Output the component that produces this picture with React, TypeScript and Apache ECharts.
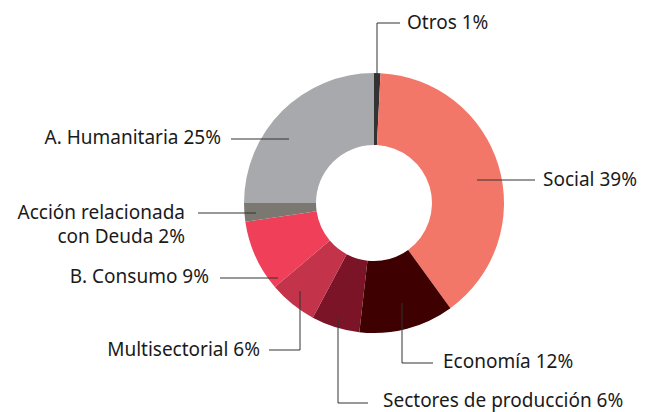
import React, { useEffect, useRef } from "react";
import * as echarts from "echarts";

const categories = [
  "Otros",
  "Social",
  "Economía",
  "Sectores de producción",
  "Multisectorial",
  "B. Consumo",
  "Acción relacionada con Deuda",
  "A. Humanitaria",
];
const values = [0.8, 39.2, 11.8, 6.0, 6.0, 8.9, 2.3, 25.0];
const shownPercents = [1, 39, 12, 6, 6, 9, 2, 25];
const colors = ["#333333", "#f37769", "#3f0001", "#7b1426", "#c3334a", "#ef3f59", "#7a7870", "#a8a9ac"];

export default function App() {
  const ref = useRef<HTMLDivElement>(null);
  useEffect(() => {
    document.body.style.margin = "0";
    const chart = echarts.init(ref.current!, null, { renderer: "svg" });
    const font = "Noto Sans";
    const fs = 19;
    const txt = (i: number) => `${categories[i]} ${shownPercents[i]}%`;
    const tStyle = (s: any) => ({ fill: "#1a1a1a", font: `${fs}px "${font}"`, lineHeight: 20, ...s });
    const lineStyle = { stroke: "#333333", lineWidth: 1, fill: null };
    const poly = (pts: number[][]) => ({ type: "polyline", shape: { points: pts }, style: lineStyle, z: 10 });
    const text = (x: number, y: number, s: string, align: string) => ({
      type: "text",
      x,
      y,
      style: tStyle({ text: s, align, verticalAlign: "middle" }),
      z: 10,
    });
    chart.setOption({
      animation: false,
      series: [
        {
          type: "pie",
          center: [374, 203],
          radius: [58, 130],
          startAngle: 90,
          clockwise: true,
          label: { show: false },
          labelLine: { show: false },
          emphasis: { disabled: true },
          itemStyle: { borderWidth: 0 },
          data: categories.map((c, i) => ({ name: c, value: values[i], itemStyle: { color: colors[i] } })),
        },
      ],
      graphic: [
        poly([[377, 82], [377, 23], [400, 23]]),
        text(407, 22, txt(0), "left"),
        poly([[477, 180], [535, 180]]),
        text(543, 179, txt(1), "left"),
        poly([[402, 303], [402, 363], [433, 363]]),
        text(443, 361, txt(2), "left"),
        poly([[338, 317], [338, 403], [368, 403]]),
        text(383, 400, txt(3), "left"),
        poly([[300, 291], [300, 350], [269, 350]]),
        text(260, 349, txt(4), "right"),
        poly([[278, 278], [220, 278]]),
        text(209, 276, txt(5), "right"),
        poly([[256, 213], [198, 213]]),
        text(185, 212, "Acción relacionada", "right"),
        text(185, 236, `con Deuda ${shownPercents[6]}%`, "right"),
        poly([[289, 139], [231, 139]]),
        text(221, 137, txt(7), "right"),
      ],
    });
    return () => chart.dispose();
  }, []);
  return <div ref={ref} style={{ width: 651, height: 412 }} />;
}
